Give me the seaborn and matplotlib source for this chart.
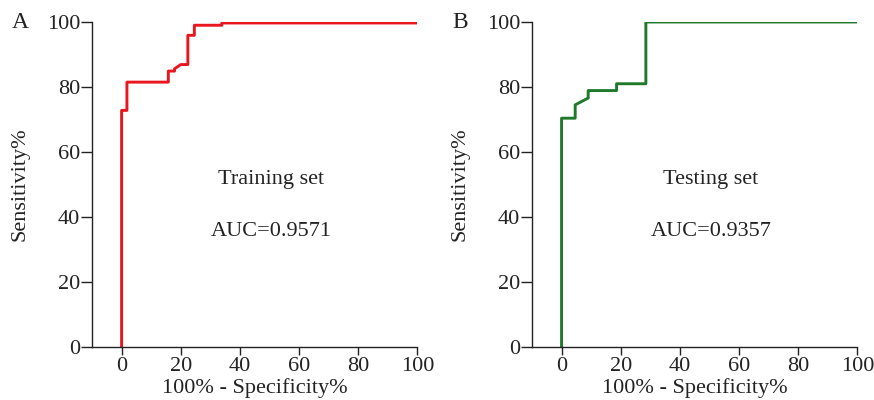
import numpy as np
import pandas as pd
import seaborn as sns
import matplotlib
matplotlib.use("Agg")
import matplotlib.pyplot as plt

# ROC curve vertices (100% - specificity %, sensitivity %)
train_fpr = [0, 0, 1.8, 1.8, 15.8, 15.8, 17.9, 17.9, 20.0, 22.4, 22.4, 24.6, 24.6, 33.9, 33.9, 100]
train_tpr = [0, 72.8, 72.8, 81.5, 81.5, 84.9, 84.9, 85.6, 86.9, 86.9, 95.9, 95.9, 99.0, 99.0, 99.7, 99.7]

test_fpr = [0, 0, 4.6, 4.6, 9.0, 9.0, 18.6, 18.6, 28.5, 28.5, 100]
test_tpr = [0, 70.4, 70.4, 74.5, 76.6, 78.9, 78.9, 81.0, 81.0, 100, 100]

panels = ["A", "B"]
set_names = ["Training set", "Testing set"]
auc_labels = ["AUC=0.9571", "AUC=0.9357"]
colors = ["#e8161f", "#1e7a2a"]

sns.set_style("ticks")
plt.rcParams["font.family"] = ["Liberation Serif", "DejaVu Serif"]

fig = plt.figure(figsize=(8.74, 4), dpi=100)
axes = [fig.add_axes([0.1053, 0.1325, 0.3722, 0.8125]),
        fig.add_axes([0.6087, 0.1325, 0.3722, 0.8125])]

txt = "#222222"
curves = [(train_fpr, train_tpr), (test_fpr, test_tpr)]
for ax, (fpr, tpr), color, letter, name, auc in zip(axes, curves, colors, panels, set_names, auc_labels):
    df = pd.DataFrame({"fpr": fpr, "tpr": tpr})
    sns.lineplot(data=df, x="fpr", y="tpr", sort=False, estimator=None,
                 color=color, linewidth=2.1, ax=ax)
    ax.set_xlim(-10, 100)
    ax.set_ylim(0, 100)
    ax.set_xticks([0, 20, 40, 60, 80, 100])
    ax.set_yticks([0, 20, 40, 60, 80, 100])
    ax.tick_params(axis="both", labelsize=16, width=1, color=txt, labelcolor=txt)
    ax.tick_params(axis="y", length=8, pad=0.5)
    ax.tick_params(axis="x", length=6, pad=1)
    for side in ["top", "right"]:
        ax.spines[side].set_visible(False)
    for side in ["left", "bottom"]:
        ax.spines[side].set_linewidth(1)
        ax.spines[side].set_color(txt)
    ax.set_xlabel("100% - Specificity%", fontsize=16, color=txt)
    ax.xaxis.label.set_va("center")
    ax.xaxis.set_label_coords(0.5, -0.126)
    ax.set_ylabel("Sensitivity%", fontsize=16, color=txt)
    ax.yaxis.label.set_va("center")
    ax.yaxis.set_label_coords(-0.222, 0.5)
    ax.text(50.5, 51.4, name, fontsize=16, ha="center", va="center", color=txt)
    ax.text(50.5, 35.4, auc, fontsize=16, ha="center", va="center", color=txt)
    ax.text(-0.246, 1.0, letter, transform=ax.transAxes, fontsize=17,
            ha="left", va="center", color=txt)

fig.savefig("out.png", dpi=100)
